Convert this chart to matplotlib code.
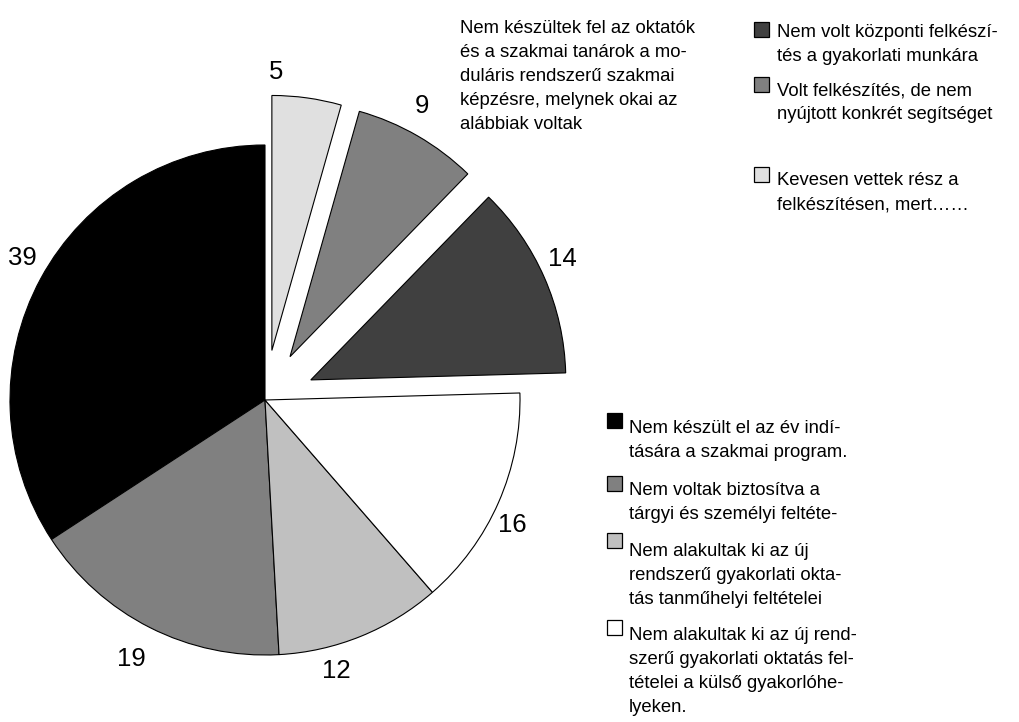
import matplotlib
matplotlib.use("Agg")
import matplotlib.pyplot as plt
from matplotlib.patches import Rectangle

# slice values, counter-clockwise from 12 o'clock
values = [39, 19, 12, 16, 14, 9, 5]
slice_colors = ["#000000", "#808080", "#c0c0c0", "#ffffff", "#404040", "#808080", "#e0e0e0"]
exploded = [0, 0, 0, 0, 50, 50, 50]
# small nudges (px, image down = +) so the numbers sit where the old Excel chart put them
label_nudge = [(4, -8), (-7, 9), (-34, 11), (-10, 12), (-5, -8), (-8, -8), (-34, -1)]

intro_lines = [
    "Nem készültek fel az oktatók",
    "és a szakmai tanárok a mo-",
    "duláris rendszerű szakmai",
    "képzésre, melynek okai az",
    "alábbiak voltak",
]

upper_legend = [
    ["Nem volt központi felkészí-", "tés a gyakorlati munkára"],
    ["Volt felkészítés, de nem", "nyújtott konkrét segítséget"],
    ["Kevesen vettek rész a", "felkészítésen, mert……"],
]
upper_colors = ["#404040", "#808080", "#e0e0e0"]

lower_legend = [
    ["Nem készült el az év indí-", "tására a szakmai program."],
    ["Nem voltak biztosítva a", "tárgyi és személyi feltéte-"],
    ["Nem alakultak ki az új", "rendszerű gyakorlati okta-", "tás tanműhelyi feltételei"],
    ["Nem alakultak ki az új rend-", "szerű gyakorlati oktatás fel-",
     "tételei a külső gyakorlóhe-", "lyeken."],
]
lower_colors = ["#000000", "#808080", "#c0c0c0", "#ffffff"]

W, H = 1020, 722
FS = 13.3
plt.rcParams["font.family"] = ["Liberation Sans", "DejaVu Sans"]

fig = plt.figure(figsize=(W / 100, H / 100), dpi=100)
ax = fig.add_axes([0, 0, 1, 1])

wedges, labels = ax.pie(values, colors=slice_colors, explode=exploded, startangle=90,
                        counterclock=True, radius=255, center=(265, H - 400),
                        labels=[str(v) for v in values], labeldistance=1.1,
                        wedgeprops=dict(edgecolor="black", linewidth=0.8),
                        textprops=dict(fontsize=18.5, ha="center", va="center"), frame=False)
for t, (dx, dy) in zip(labels, label_nudge):
    x, y = t.get_position()
    t.set_position((x + dx, y - dy))

ax.set_xlim(0, W)
ax.set_ylim(0, H)
ax.set_aspect("equal")
ax.axis("off")


def text_block(x, baselines, lines):
    # baselines are measured from the top of the image
    for b, line in zip(baselines, lines):
        ax.text(x, H - b, line, fontsize=FS, ha="left", va="baseline")


def legend_block(box_x, text_x, box_tops, baselines, entries, colors):
    for top, bl, lines, c in zip(box_tops, baselines, entries, colors):
        ax.add_patch(Rectangle((box_x, H - top - 15), 15, 15, facecolor=c,
                               edgecolor="black", linewidth=0.9))
        text_block(text_x, bl, lines)


text_block(460, [33, 57, 81, 105, 129], intro_lines)
legend_block(754, 777, [22, 77, 167],
             [[37, 61], [95, 119], [185, 209]], upper_legend, upper_colors)
legend_block(607, 629, [413, 476, 533, 620],
             [[433, 457], [495, 519], [556, 580, 604], [640, 664, 688, 712]],
             lower_legend, lower_colors)

fig.savefig("out.png", dpi=100)
